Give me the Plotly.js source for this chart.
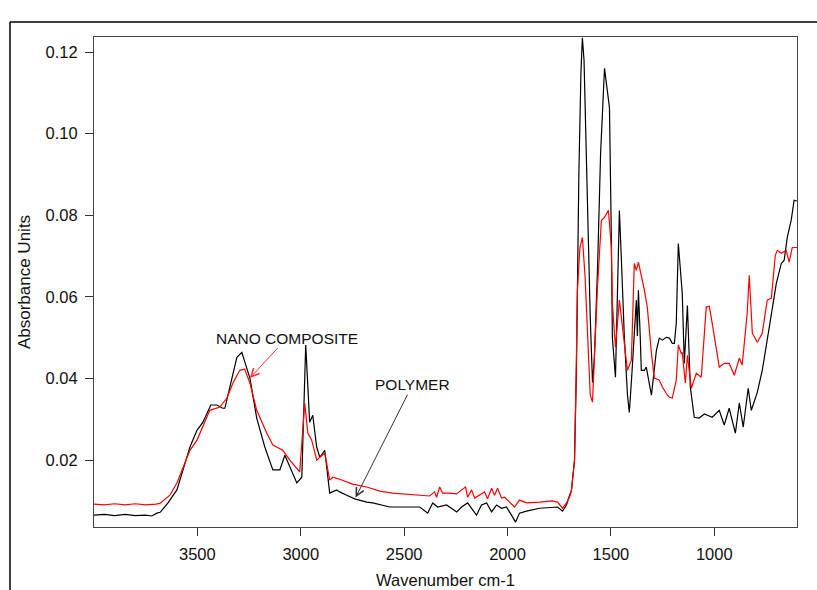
<!DOCTYPE html>
<html>
<head>
<meta charset="utf-8">
<script src="https://cdn.plot.ly/plotly-3.0.1.min.js"></script>
<style>html,body{margin:0;padding:0;background:#fff;}#chart{width:817px;height:590px;}</style>
</head>
<body>
<div id="chart"></div>
<script>
// POLYMER (black)
const polymerWn = [4000,3950,3900,3850,3800,3750,3720,3696,3680,3642,3599,3536,3502,3473,3435,3406,3377,3367,3343,3309,3285,3246,3213,3174,3135,3101,3077,3053,3019,2995,2976,2957,2942,2923,2908,2884,2860,2826,2812,2778,2739,2681,2652,2570,2488,2425,2386,2362,2338,2295,2246,2222,2193,2169,2150,2126,2101,2077,2053,2029,2005,1981,1961,1942,1908,1845,1783,1758,1734,1715,1700,1691,1676,1667,1660,1655,1645,1638,1630,1620,1613,1600,1589,1580,1565,1550,1531,1518,1507,1498,1493,1478,1470,1459,1450,1435,1420,1411,1400,1387,1377,1372,1367,1358,1353,1338,1329,1304,1280,1266,1251,1232,1217,1203,1193,1184,1174,1155,1145,1130,1116,1097,1073,1048,1010,976,952,928,898,879,860,836,821,792,768,734,700,676,662,647,628,614,600];
const polymerAbs = [0.0065,0.0067,0.0064,0.0067,0.0064,0.0065,0.0063,0.0070,0.0072,0.0095,0.0127,0.0232,0.0273,0.0293,0.0335,0.0335,0.0327,0.0327,0.0379,0.0452,0.0464,0.0401,0.0303,0.0232,0.0176,0.0176,0.0212,0.0183,0.0144,0.0158,0.0482,0.0293,0.0310,0.0232,0.0207,0.0224,0.0119,0.0127,0.0122,0.0114,0.0105,0.0097,0.0095,0.0085,0.0085,0.0085,0.0070,0.0095,0.0085,0.0090,0.0073,0.0085,0.0095,0.0078,0.0065,0.0090,0.0095,0.0073,0.0090,0.0082,0.0085,0.0065,0.0048,0.0070,0.0075,0.0082,0.0085,0.0085,0.0075,0.0090,0.0114,0.0125,0.0200,0.0412,0.0700,0.0900,0.1150,0.1235,0.1180,0.0950,0.0844,0.0550,0.0390,0.0450,0.0665,0.0950,0.1160,0.1100,0.1064,0.0750,0.0500,0.0403,0.0550,0.0812,0.0700,0.0501,0.0360,0.0317,0.0400,0.0501,0.0592,0.0504,0.0616,0.0500,0.0420,0.0420,0.0428,0.0359,0.0469,0.0499,0.0494,0.0501,0.0499,0.0486,0.0486,0.0535,0.0731,0.0609,0.0437,0.0579,0.0379,0.0305,0.0303,0.0313,0.0305,0.0322,0.0286,0.0327,0.0266,0.0340,0.0281,0.0376,0.0322,0.0366,0.0420,0.0526,0.0633,0.0682,0.0690,0.0746,0.0788,0.0837,0.0835];

// NANO COMPOSITE (red)
const nanoWn = [4000,3950,3900,3850,3800,3750,3700,3681,3633,3599,3536,3502,3440,3391,3357,3328,3295,3271,3246,3213,3164,3135,3087,3053,3005,2981,2966,2947,2923,2899,2884,2860,2845,2812,2749,2681,2618,2556,2488,2425,2377,2353,2343,2328,2314,2280,2246,2222,2203,2193,2174,2159,2135,2111,2097,2077,2063,2048,2029,2014,1990,1966,1942,1908,1845,1783,1758,1734,1715,1700,1691,1676,1667,1662,1650,1638,1625,1613,1600,1589,1580,1565,1546,1531,1512,1498,1493,1478,1459,1440,1420,1401,1387,1377,1367,1338,1324,1304,1290,1266,1251,1227,1217,1203,1184,1174,1160,1155,1140,1130,1111,1087,1063,1039,1024,1010,976,952,928,903,879,865,841,831,816,792,768,744,724,705,695,676,652,638,623,600];
const nanoAbs = [0.0092,0.0090,0.0093,0.0090,0.0093,0.0090,0.0092,0.0094,0.0114,0.0144,0.0224,0.0249,0.0322,0.0330,0.0352,0.0389,0.0420,0.0423,0.0389,0.0322,0.0266,0.0237,0.0224,0.0200,0.0171,0.0340,0.0266,0.0249,0.0200,0.0212,0.0217,0.0151,0.0158,0.0153,0.0141,0.0134,0.0124,0.0119,0.0117,0.0114,0.0112,0.0122,0.0109,0.0134,0.0119,0.0119,0.0117,0.0127,0.0134,0.0109,0.0127,0.0107,0.0114,0.0122,0.0105,0.0131,0.0114,0.0131,0.0107,0.0109,0.0097,0.0085,0.0102,0.0095,0.0097,0.0100,0.0097,0.0082,0.0095,0.0109,0.0125,0.0200,0.0450,0.0616,0.0720,0.0746,0.0650,0.0500,0.0360,0.0342,0.0450,0.0624,0.0788,0.0795,0.0812,0.0721,0.0584,0.0477,0.0592,0.0501,0.0420,0.0445,0.0682,0.0665,0.0685,0.0616,0.0575,0.0462,0.0401,0.0396,0.0379,0.0359,0.0354,0.0352,0.0396,0.0482,0.0462,0.0464,0.0389,0.0457,0.0376,0.0413,0.0403,0.0575,0.0577,0.0535,0.0428,0.0437,0.0437,0.0408,0.0450,0.0433,0.0560,0.0653,0.0511,0.0489,0.0511,0.0592,0.0597,0.0702,0.0714,0.0707,0.0714,0.0685,0.0721,0.0721];

const xTickVals = [3500,3000,2500,2000,1500,1000];
const yTickVals = [0.02,0.04,0.06,0.08,0.10,0.12];
const yTickText = ['0.02','0.04','0.06','0.08','0.10','0.12'];

const traces = [
  {x: polymerWn, y: polymerAbs, type: 'scatter', mode: 'lines', name: 'POLYMER',
   line: {color: '#000000', width: 1.2}},
  {x: nanoWn, y: nanoAbs, type: 'scatter', mode: 'lines', name: 'NANO COMPOSITE',
   line: {color: '#ff0000', width: 1.2}}
];

const fam = 'Liberation Sans, Arial, sans-serif';

const layout = {
  width: 817, height: 590,
  margin: {l: 94, r: 20, t: 37, b: 63},
  paper_bgcolor: '#fff', plot_bgcolor: '#fff',
  showlegend: false,
  font: {family: fam, color: '#111'},
  xaxis: {
    range: [4000, 600], autorange: false,
    tickvals: xTickVals, ticks: 'outside', ticklen: 8, tickcolor: '#333',
    ticklabelstandoff: 4,
    showgrid: false, zeroline: false,
    showline: true, mirror: true, linecolor: '#444', linewidth: 1,
    tickfont: {family: fam, size: 16.5, color: '#111'},
    title: {text: 'Wavenumber cm-1', font: {family: fam, size: 16.5, color: '#111'}, standoff: 12}
  },
  yaxis: {
    range: [0.0036, 0.1237], autorange: false,
    tickvals: yTickVals, ticktext: yTickText, ticks: 'outside', ticklen: 8, tickcolor: '#333',
    ticklabelstandoff: 4,
    showgrid: false, zeroline: false,
    showline: true, mirror: true, linecolor: '#444', linewidth: 1,
    tickfont: {family: fam, size: 16.5, color: '#111'},
    title: {text: 'Absorbance Units', font: {family: fam, size: 17, color: '#111'}, standoff: 10}
  },
  shapes: [
    {type: 'line', xref: 'paper', yref: 'paper', x0: -0.1195, x1: 1.03, y0: 1.0306, y1: 1.0306,
     line: {color: '#000', width: 1.5}},
    {type: 'line', xref: 'paper', yref: 'paper', x0: -0.1195, x1: -0.1195, y0: 1.0306, y1: -0.14,
     line: {color: '#000', width: 1.5}}
  ],
  annotations: [
    {x: 3246, y: 0.0401, xref: 'x', yref: 'y', text: 'NANO COMPOSITE',
     showarrow: true, arrowhead: 5, arrowsize: 1.6, arrowwidth: 1, arrowcolor: '#ff3030',
     ax: 37, ay: -40, font: {family: fam, size: 15.5, color: '#111'}},
    {x: 2735, y: 0.0108, xref: 'x', yref: 'y', text: 'POLYMER',
     showarrow: true, arrowhead: 5, arrowsize: 1.6, arrowwidth: 1, arrowcolor: '#333',
     ax: 57, ay: -113, font: {family: fam, size: 15.5, color: '#111'}}
  ]
};

Plotly.newPlot('chart', traces, layout, {displayModeBar: false, staticPlot: true});
</script>
</body>
</html>
